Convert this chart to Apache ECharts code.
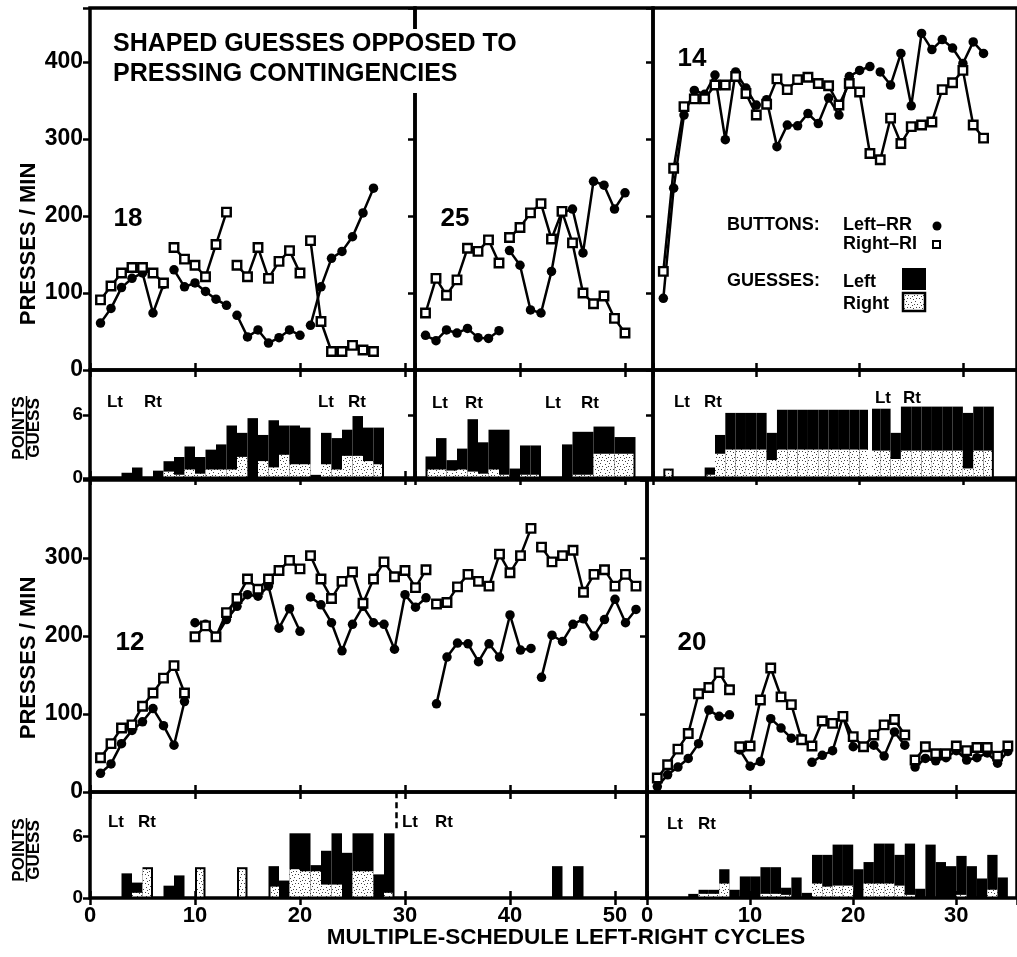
<!DOCTYPE html>
<html>
<head>
<meta charset="utf-8">
<script src="https://cdn.jsdelivr.net/npm/echarts@6/dist/echarts.min.js"></script>
<style>
  html, body { margin: 0; background: #fff; }
  #chart { width: 1017px; height: 957px; }
</style>
</head>
<body>
<div id="chart"></div>
<script>
// ---- values (presses/min per cycle, guesses per cycle) ----
// subject 18 (top left), cycles 1..27, a new session starts at each listed cycle
const s18Starts = [1, 8, 14, 21];
const s18LeftRR = [61, 80, 107, 119, 126, 74, 111, 130, 108, 113, 102, 92, 84, 71, 43, 52, 35, 42, 52, 45, 58, 108, 145, 154, 173, 204, 236];
const s18RightRI = [91, 109, 126, 133, 133, 126, 113, 159, 144, 136, 121, 163, 205, 136, 121, 159, 119, 141, 155, 126, 168, 63, 24, 24, 32, 26, 24];
const g18Total = [0, 0, 0, 0.5, 1.0, 0, 0.7, 1.6, 2.0, 3.0, 2.0, 2.7, 3.2, 5.0, 4.3, 5.7, 4.1, 5.5, 5.0, 5.0, 4.8, 0.3, 4.3, 3.8, 4.6, 5.9, 4.8, 4.8];
const g18Right = [0, 0, 0, 0, 0, 0, 0, 0.8, 0.5, 1.0, 0.6, 1.0, 1.0, 1.0, 2.2, 0.3, 1.8, 1.2, 2.4, 1.5, 1.5, 0, 1.5, 1.0, 2.3, 2.3, 1.8, 1.5];

// subject 25 (top middle), cycles 1..20
const s25Starts = [1, 9];
const s25LeftRR = [45, 38, 52, 48, 54, 42, 41, 51, 155, 136, 78, 74, 128, 204, 209, 152, 245, 240, 209, 230];
const s25RightRI = [74, 119, 97, 117, 158, 154, 169, 139, 172, 185, 204, 216, 170, 206, 165, 100, 86, 96, 67, 48];
const g25Total = [0, 2.05, 3.8, 1.7, 2.8, 5.6, 3.4, 4.6, 4.6, 0.9, 3.1, 3.1, 0, 0, 3.2, 4.4, 4.4, 4.9, 4.9, 3.9, 3.9];
const g25Right = [0, 1.0, 1.0, 0.9, 1.0, 0.8, 0.6, 1.0, 0.5, 0.3, 0.5, 0.5, 0, 0, 0.3, 0.5, 0.5, 2.5, 2.5, 2.5, 2.5];

// subject 14 (top right), cycles 1..32
const s14Starts = [1, 11, 22];
const s14LeftRR = [93, 236, 331, 363, 358, 383, 299, 387, 366, 344, 351, 290, 318, 317, 333, 320, 353, 331, 381, 389, 394, 387, 370, 411, 343, 437, 416, 429, 418, 398, 426, 411];
const s14RightRI = [128, 262, 342, 352, 352, 370, 370, 381, 359, 331, 345, 378, 364, 377, 380, 372, 369, 344, 372, 361, 281, 273, 327, 294, 316, 318, 322, 364, 373, 389, 318, 301];
const g14Total = [0, 0.9, 0, 0, 0, 1.0, 4.1, 6.2, 6.2, 6.2, 6.2, 4.3, 6.5, 6.5, 6.5, 6.5, 6.5, 6.5, 6.5, 6.5, 6.5, 6.6, 6.6, 4.3, 6.8, 6.8, 6.8, 6.8, 6.8, 6.8, 6.2, 6.8, 6.8];
const g14Right = [0, 0.9, 0, 0, 0, 0.5, 2.5, 2.9, 2.9, 2.9, 2.9, 1.9, 2.9, 2.9, 2.9, 2.9, 2.9, 2.9, 2.9, 2.9, 2.9, 2.8, 2.8, 2.0, 2.8, 2.8, 2.8, 2.8, 2.8, 2.8, 1.1, 2.8, 2.8];

// subject 12 (bottom left), cycles 1..52
const s12Starts = [1, 10, 21, 33, 43];
const s12LeftRR = [24, 36, 62, 79, 90, 107, 85, 60, 116, 217, 215, 199, 221, 238, 253, 251, 264, 210, 235, 206, 250, 240, 217, 181, 215, 238, 217, 215, 183, 253, 237, 249, 113, 173, 191, 190, 167, 190, 173, 227, 182, 184, 147, 201, 193, 215, 222, 200, 221, 247, 217, 234];
const s12RightRI = [44, 62, 82, 86, 110, 127, 146, 162, 127, 199, 213, 199, 230, 248, 273, 260, 273, 284, 297, 286, 303, 273, 248, 270, 282, 242, 273, 295, 276, 284, 262, 285, 241, 243, 263, 279, 270, 264, 305, 281, 303, 338, 314, 295, 303, 310, 256, 279, 285, 264, 279, 264];
const g12Total = [0, 0, 0, 2.4, 1.5, 3.0, 0, 1.2, 2.2, 0, 3.0, 0, 0, 0, 3.0, 0, 0, 3.1, 1.7, 6.3, 6.3, 3.2, 4.6, 6.3, 4.4, 6.3, 6.3, 2.3, 6.3, 0, 0, 0, 0, 0, 0, 0, 0, 0, 0, 0, 0, 0, 0, 0, 3.1, 0, 3.1];
const g12Right = [0, 0, 0, 0, 0.7, 3.0, 0, 0, 0, 0, 3.0, 0, 0, 0, 3.0, 0, 0, 1.3, 0, 3.0, 2.8, 2.8, 1.5, 1.5, 0.2, 2.8, 2.8, 0.3, 0.7, 0, 0, 0, 0, 0, 0, 0, 0, 0, 0, 0, 0, 0, 0, 0, 0, 0, 0];

// subject 20 (bottom right), cycles 1..35
const s20Starts = [1, 9, 16, 26];
const s20LeftRR = [7, 22, 32, 43, 62, 105, 97, 99, 54, 33, 39, 94, 82, 69, 69, 38, 47, 53, 96, 58, 58, 60, 46, 77, 60, 32, 43, 40, 44, 53, 41, 44, 50, 37, 52];
const s20RightRI = [18, 35, 55, 75, 126, 134, 153, 131, 58, 59, 118, 159, 122, 112, 67, 59, 91, 88, 97, 71, 58, 73, 86, 93, 73, 41, 58, 49, 49, 59, 53, 57, 57, 46, 59];
const g20Total = [0, 0, 0, 0, 0.4, 0.8, 0.8, 2.8, 0.8, 2.1, 2.1, 3.0, 3.0, 1.0, 2.0, 0.5, 4.2, 4.2, 5.2, 5.2, 2.8, 3.5, 5.3, 5.3, 4.2, 5.3, 0.9, 5.2, 3.5, 3.1, 4.1, 3.1, 1.9, 4.2, 2.0];
const g20Right = [0, 0, 0, 0, 0, 0.6, 0.6, 1.6, 0.3, 0, 0.2, 0.6, 0.6, 0.5, 0, 0, 1.6, 1.3, 1.4, 1.4, 0.3, 1.6, 1.6, 1.6, 1.4, 0.5, 0, 0, 0.3, 0, 0.5, 0, 0, 1.0, 0];

// contingency switches (cycle) marked in the guess panels
const switch18 = 20.8, switch25 = 11.9, switch14 = 20.2, session14 = 21, switch12 = 29.2;

const FONT = '"Liberation Sans", Arial, sans-serif';

// light speckled fill for right guesses
const speck = document.createElement('canvas');
speck.width = 9; speck.height = 9;
const sctx = speck.getContext('2d');
sctx.fillStyle = '#fff'; sctx.fillRect(0, 0, 9, 9);
sctx.fillStyle = '#444';
[[1, 1], [4, 2], [7, 1], [2, 5], [6, 4], [8, 7], [3, 8], [5, 7]].forEach(([x, y]) => sctx.fillRect(x, y, 1, 1));
const SPECKLE = { image: speck, repeat: 'repeat' };

const grids = [], xAxes = [], yAxes = [], series = [];
const tickStyle = { color: '#000', width: 2.5 };

function panel(left, top, width, height, xmax, ymax, yInterval, opts) {
  const gi = grids.length;
  grids.push({ left, top, width, height, show: true, borderColor: '#000', borderWidth: 3.5, backgroundColor: 'transparent' });
  const xi = xAxes.length;
  const xBase = {
    gridIndex: gi, type: 'value', min: 0, max: xmax, interval: 10,
    axisLine: { show: false }, splitLine: { show: false },
    axisTick: { show: true, inside: true, length: 7, lineStyle: tickStyle }
  };
  xAxes.push(Object.assign({}, xBase, {
    position: 'bottom',
    axisLabel: opts.xLabels
      ? { show: true, showMaxLabel: false, margin: 7, color: '#000', fontSize: 22, fontWeight: 'bold', fontFamily: FONT }
      : { show: false }
  }));
  xAxes.push(Object.assign({}, xBase, { position: 'top', axisLabel: { show: false } }));
  const yi = yAxes.length;
  const yBase = {
    gridIndex: gi, type: 'value', min: 0, max: ymax, interval: yInterval,
    axisLine: { show: false }, splitLine: { show: false }
  };
  yAxes.push(Object.assign({}, yBase, {
    position: 'left',
    axisTick: { show: true, inside: false, length: 7, lineStyle: tickStyle },
    axisLabel: opts.yLabels
      ? { show: true, showMaxLabel: false, margin: 7, color: '#000', fontSize: opts.yFont || 23, fontWeight: 'bold', fontFamily: FONT }
      : { show: false }
  }));
  yAxes.push(Object.assign({}, yBase, {
    position: 'right',
    axisTick: { show: true, inside: true, length: 7, lineStyle: tickStyle },
    axisLabel: { show: false }
  }));
  return { xi, yi };
}

function withBreaks(vals, starts) {
  const out = [];
  vals.forEach((v, i) => {
    const c = i + 1;
    if (c > starts[0] && starts.includes(c)) out.push([c - 0.5, '-']);
    out.push([c, v]);
  });
  return out;
}

function presses(p, left, right, starts) {
  const common = {
    type: 'line', xAxisIndex: p.xi, yAxisIndex: p.yi, connectNulls: false,
    lineStyle: { color: '#000', width: 2.5 }, silent: true, z: 3
  };
  series.push(Object.assign({}, common, {
    name: 'Left-RR', data: withBreaks(left, starts),
    symbol: 'circle', symbolSize: 9.5, itemStyle: { color: '#000' }
  }));
  series.push(Object.assign({}, common, {
    name: 'Right-RI', data: withBreaks(right, starts),
    symbol: 'rect', symbolSize: 8.5, itemStyle: { color: '#fff', borderColor: '#000', borderWidth: 2.4 }
  }));
}

function guesses(p, totals, rights) {
  series.push({
    type: 'custom', xAxisIndex: p.xi, yAxisIndex: p.yi, clip: true, silent: true,
    data: totals.map((t, i) => [i + 1, t, rights[i]]),
    renderItem(params, api) {
      const i = params.dataIndex;
      const k = api.value(0), tot = api.value(1), rt = api.value(2);
      const kids = [];
      if (tot > 0) {
        const a = api.coord([k - 1, 0]);
        const b = api.coord([k, tot]);
        const w = b[0] - a[0];
        kids.push({ type: 'rect', shape: { x: a[0], y: b[1], width: w, height: a[1] - b[1] }, style: { fill: '#000' } });
        if (rt > 0) {
          const c = api.coord([k, rt]);
          const il = (totals[i - 1] || 0) > 0 ? 0 : 2;
          const ir = (totals[i + 1] || 0) > 0 ? 0 : 2;
          kids.push({
            type: 'rect',
            shape: { x: a[0] + il, y: c[1] + 2, width: w - il - ir, height: Math.max(0, a[1] - c[1] - 3.5) },
            style: { fill: SPECKLE }
          });
        }
      }
      return { type: 'group', children: kids };
    }
  });
}

function vline(p, x, y0, y1, style) {
  series.push({
    type: 'line', xAxisIndex: p.xi, yAxisIndex: p.yi, data: [], silent: true, z: 6,
    markLine: {
      silent: true, symbol: ['none', 'none'], label: { show: false }, animation: false,
      lineStyle: style, data: [[{ coord: [x, y0] }, { coord: [x, y1] }]]
    }
  });
}

// ---- panels ----
const pTop18 = panel(90, 8, 325, 362, 325 / 10.5, 470, 100, { yLabels: true });
const pTop25 = panel(415, 8, 238, 362, 238 / 10.5, 470, 100, {});
const pTop14 = panel(653, 8, 370, 362, 370 / 10.5, 470, 100, {});
const pPts18 = panel(90, 370, 325, 108, 325 / 10.5, 108 / 10.5, 6, { yLabels: true, yFont: 19 });
const pPts25 = panel(415, 370, 238, 108, 238 / 10.5, 108 / 10.5, 6, {});
const pPts14 = panel(653, 370, 370, 108, 370 / 10.5, 108 / 10.5, 6, {});
const pBot12 = panel(90, 480, 557, 312, 557 / 10.5, 400, 100, { yLabels: true });
const pBot20 = panel(647, 480, 375, 312, 375 / 10.45, 400, 100, {});
const pPts12 = panel(90, 792, 557, 106, 557 / 10.5, 106 / 10.27, 6, { yLabels: true, xLabels: true, yFont: 19 });
const pPts20 = panel(647, 792, 375, 106, 375 / 10.45, 106 / 10.27, 6, { xLabels: true });

presses(pTop18, s18LeftRR, s18RightRI, s18Starts);
presses(pTop25, s25LeftRR, s25RightRI, s25Starts);
presses(pTop14, s14LeftRR, s14RightRI, s14Starts);
presses(pBot12, s12LeftRR, s12RightRI, s12Starts);
presses(pBot20, s20LeftRR, s20RightRI, s20Starts);

guesses(pPts18, g18Total, g18Right);
guesses(pPts25, g25Total, g25Right);
guesses(pPts14, g14Total, g14Right);
guesses(pPts12, g12Total, g12Right);
guesses(pPts20, g20Total, g20Right);

const dashed = { color: '#000', width: 2.5, type: [6, 4] };
vline(pPts18, switch18, 5.5, 10.3, dashed);
vline(pPts25, switch25, 3.4, 10.3, dashed);
vline(pPts14, switch14, 7, 10.3, dashed);
vline(pPts14, session14, 0.25, 7, { color: '#fff', width: 4, type: 'solid' });
vline(pPts12, switch12, 6.8, 10.3, dashed);

// ---- text annotations ----
function txt(x, y, text, size, o) {
  o = o || {};
  const align = o.align || 'center';
  return {
    type: 'text', x, y, rotation: o.rot || 0, z: 20, silent: true,
    style: {
      text, fill: '#000', font: (o.weight || 'bold') + ' ' + size + 'px ' + FONT,
      textAlign: align, align, textVerticalAlign: 'middle', verticalAlign: 'middle'
    }
  };
}
const R = Math.PI / 2;
const graphic = [
  txt(29, 244, 'PRESSES / MIN', 22, { rot: R }),
  txt(29, 658, 'PRESSES / MIN', 22, { rot: R }),
  txt(19, 428, 'POINTS', 17, { rot: R }),
  txt(34, 428, 'GUESS', 17, { rot: R }),
  { type: 'line', z: 20, shape: { x1: 26.5, y1: 396, x2: 26.5, y2: 460 }, style: { stroke: '#000', lineWidth: 1.5 } },
  txt(19, 850, 'POINTS', 17, { rot: R }),
  txt(34, 850, 'GUESS', 17, { rot: R }),
  { type: 'line', z: 20, shape: { x1: 26.5, y1: 818, x2: 26.5, y2: 882 }, style: { stroke: '#000', lineWidth: 1.5 } },
  txt(566, 938, 'MULTIPLE-SCHEDULE LEFT-RIGHT CYCLES', 22.5),
  txt(128, 219, '18', 26), txt(455, 219, '25', 26), txt(692, 59, '14', 26),
  txt(130, 643, '12', 26), txt(692, 643, '20', 26),
  txt(115, 402, 'Lt', 17), txt(153, 402, 'Rt', 17),
  txt(326, 402, 'Lt', 17), txt(357, 402, 'Rt', 17),
  txt(440, 403, 'Lt', 17), txt(474, 403, 'Rt', 17),
  txt(553, 403, 'Lt', 17), txt(590, 403, 'Rt', 17),
  txt(682, 402, 'Lt', 17), txt(713, 402, 'Rt', 17),
  txt(883, 398, 'Lt', 17), txt(912, 398, 'Rt', 17),
  txt(116, 822, 'Lt', 17), txt(147, 822, 'Rt', 17),
  txt(410, 822, 'Lt', 17), txt(444, 822, 'Rt', 17),
  txt(675, 824, 'Lt', 17), txt(707, 824, 'Rt', 17),
  // legend
  txt(727, 225, 'BUTTONS:', 18, { align: 'left' }),
  txt(843, 225, 'Left\u2013RR', 18, { align: 'left' }),
  txt(843, 244, 'Right\u2013RI', 18, { align: 'left' }),
  { type: 'circle', z: 20, shape: { cx: 937, cy: 226, r: 4.5 }, style: { fill: '#000' } },
  { type: 'rect', z: 20, shape: { x: 933, y: 241, width: 7, height: 7 }, style: { fill: '#fff', stroke: '#000', lineWidth: 2 } },
  txt(727, 281, 'GUESSES:', 18, { align: 'left' }),
  txt(843, 282, 'Left', 18, { align: 'left' }),
  txt(843, 304, 'Right', 18, { align: 'left' }),
  { type: 'rect', z: 20, shape: { x: 902, y: 268, width: 24, height: 22 }, style: { fill: '#000' } },
  { type: 'rect', z: 20, shape: { x: 903, y: 293, width: 22, height: 18 }, style: { fill: SPECKLE, stroke: '#000', lineWidth: 2.5 } }
];

const chart = echarts.init(document.getElementById('chart'), null, { renderer: 'canvas' });
chart.setOption({
  animation: false,
  backgroundColor: '#fff',
  title: {
    text: 'SHAPED GUESSES OPPOSED TO\nPRESSING CONTINGENCIES',
    left: 108, top: 29, padding: [0, 4, 4, 5], backgroundColor: '#fff',
    textStyle: { fontFamily: FONT, fontSize: 25, fontWeight: 'bold', lineHeight: 30, color: '#000' }
  },
  grid: grids,
  xAxis: xAxes,
  yAxis: yAxes,
  series,
  graphic
});
</script>
</body>
</html>
